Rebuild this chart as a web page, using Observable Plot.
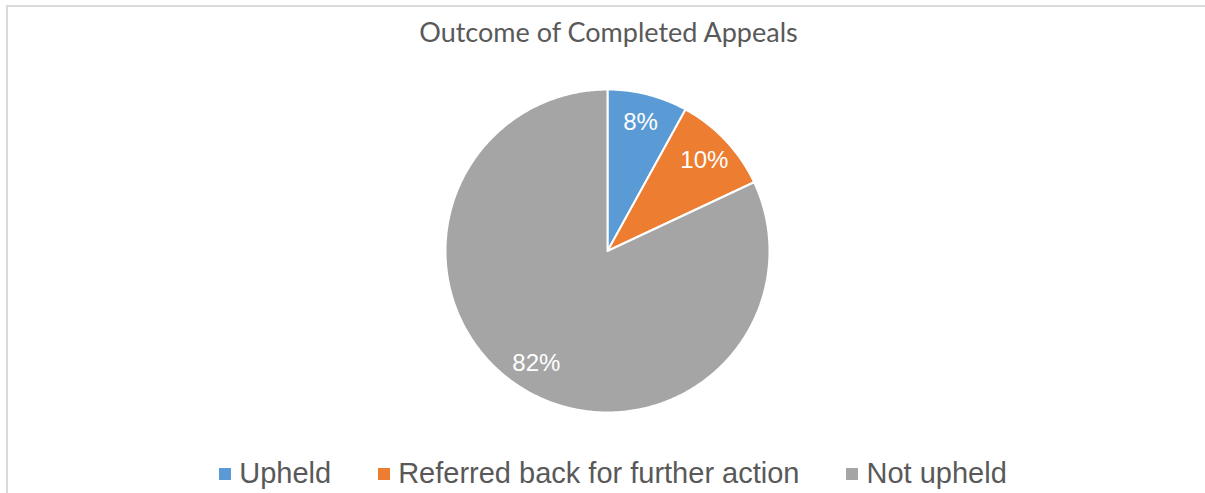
<!DOCTYPE html>
<html>
<head>
<meta charset="utf-8">
<script src="https://cdn.jsdelivr.net/npm/d3@7"></script>
<script src="https://cdn.jsdelivr.net/npm/@observablehq/plot@0.6"></script>
<style>
  html, body { margin: 0; padding: 0; background: #fff; width: 1205px; height: 493px; overflow: hidden; }
  #frame { position: absolute; left: 6px; top: 5px; width: 1210px; height: 500px; border-left: 2px solid #d9d9d9; border-top: 2px solid #d9d9d9; box-sizing: border-box; }
  #title { position: absolute; left: 0; top: 15px; width: 1217px; text-align: center; font-family: Lato, "Liberation Sans", sans-serif; font-size: 27px; color: #595959; }
  #chart { position: absolute; left: 0; top: 50px; }
  #legend { position: absolute; left: 0; top: 457px; width: 1226px; display: flex; justify-content: center; align-items: center; gap: 47px; font-family: "Liberation Sans", Arial, sans-serif; font-size: 29px; color: #595959; }
  .item { display: flex; align-items: center; gap: 8px; }
  .sw { width: 12px; height: 12px; display: inline-block; }
</style>
</head>
<body>
<div id="frame"></div>
<div id="title">Outcome of Completed Appeals</div>
<div id="chart"></div>
<div id="legend"></div>
<script>
const categories = ["Upheld", "Referred back for further action", "Not upheld"];
const values = [8, 10, 82];
const labels = ["8%", "10%", "82%"];
const colors = ["#5B9BD5", "#ED7D31", "#A5A5A5"];

const arcs = d3.pie().sort(null).value(d => d)(values);
const slices = [];
arcs.forEach((a, i) => {
  const n = Math.max(2, Math.ceil((a.endAngle - a.startAngle) / 0.01));
  slices.push({cat: categories[i], x: 0, y: 0});
  for (let k = 0; k <= n; k++) {
    const t = a.startAngle + (a.endAngle - a.startAngle) * k / n;
    slices.push({cat: categories[i], x: Math.sin(t), y: Math.cos(t)});
  }
  slices.push({cat: categories[i], x: 0, y: 0});
});
const labelData = arcs.map((a, i) => {
  const m = (a.startAngle + a.endAngle) / 2;
  const r = 0.82;
  return {label: labels[i], x: r * Math.sin(m), y: r * Math.cos(m)};
});

const plot = Plot.plot({
  width: 1205,
  height: 400,
  marginLeft: 445,
  marginRight: 436,
  marginTop: 39,
  marginBottom: 38,
  x: {domain: [-1, 1], axis: null},
  y: {domain: [-1, 1], axis: null},
  color: {domain: categories, range: colors},
  marks: [
    Plot.line(slices, {x: "x", y: "y", z: "cat", fill: "cat", stroke: "white", strokeWidth: 2, strokeLinejoin: "round"}),
    Plot.text(labelData, {x: "x", y: "y", text: "label", fill: "white", fontSize: 24, fontFamily: "'Liberation Sans', Arial, sans-serif"})
  ]
});
document.getElementById("chart").appendChild(plot);

const legend = document.getElementById("legend");
categories.forEach((c, i) => {
  const item = document.createElement("div");
  item.className = "item";
  const sw = document.createElement("span");
  sw.className = "sw";
  sw.style.background = colors[i];
  const tx = document.createElement("span");
  tx.textContent = c;
  item.appendChild(sw);
  item.appendChild(tx);
  legend.appendChild(item);
});
</script>
</body>
</html>
